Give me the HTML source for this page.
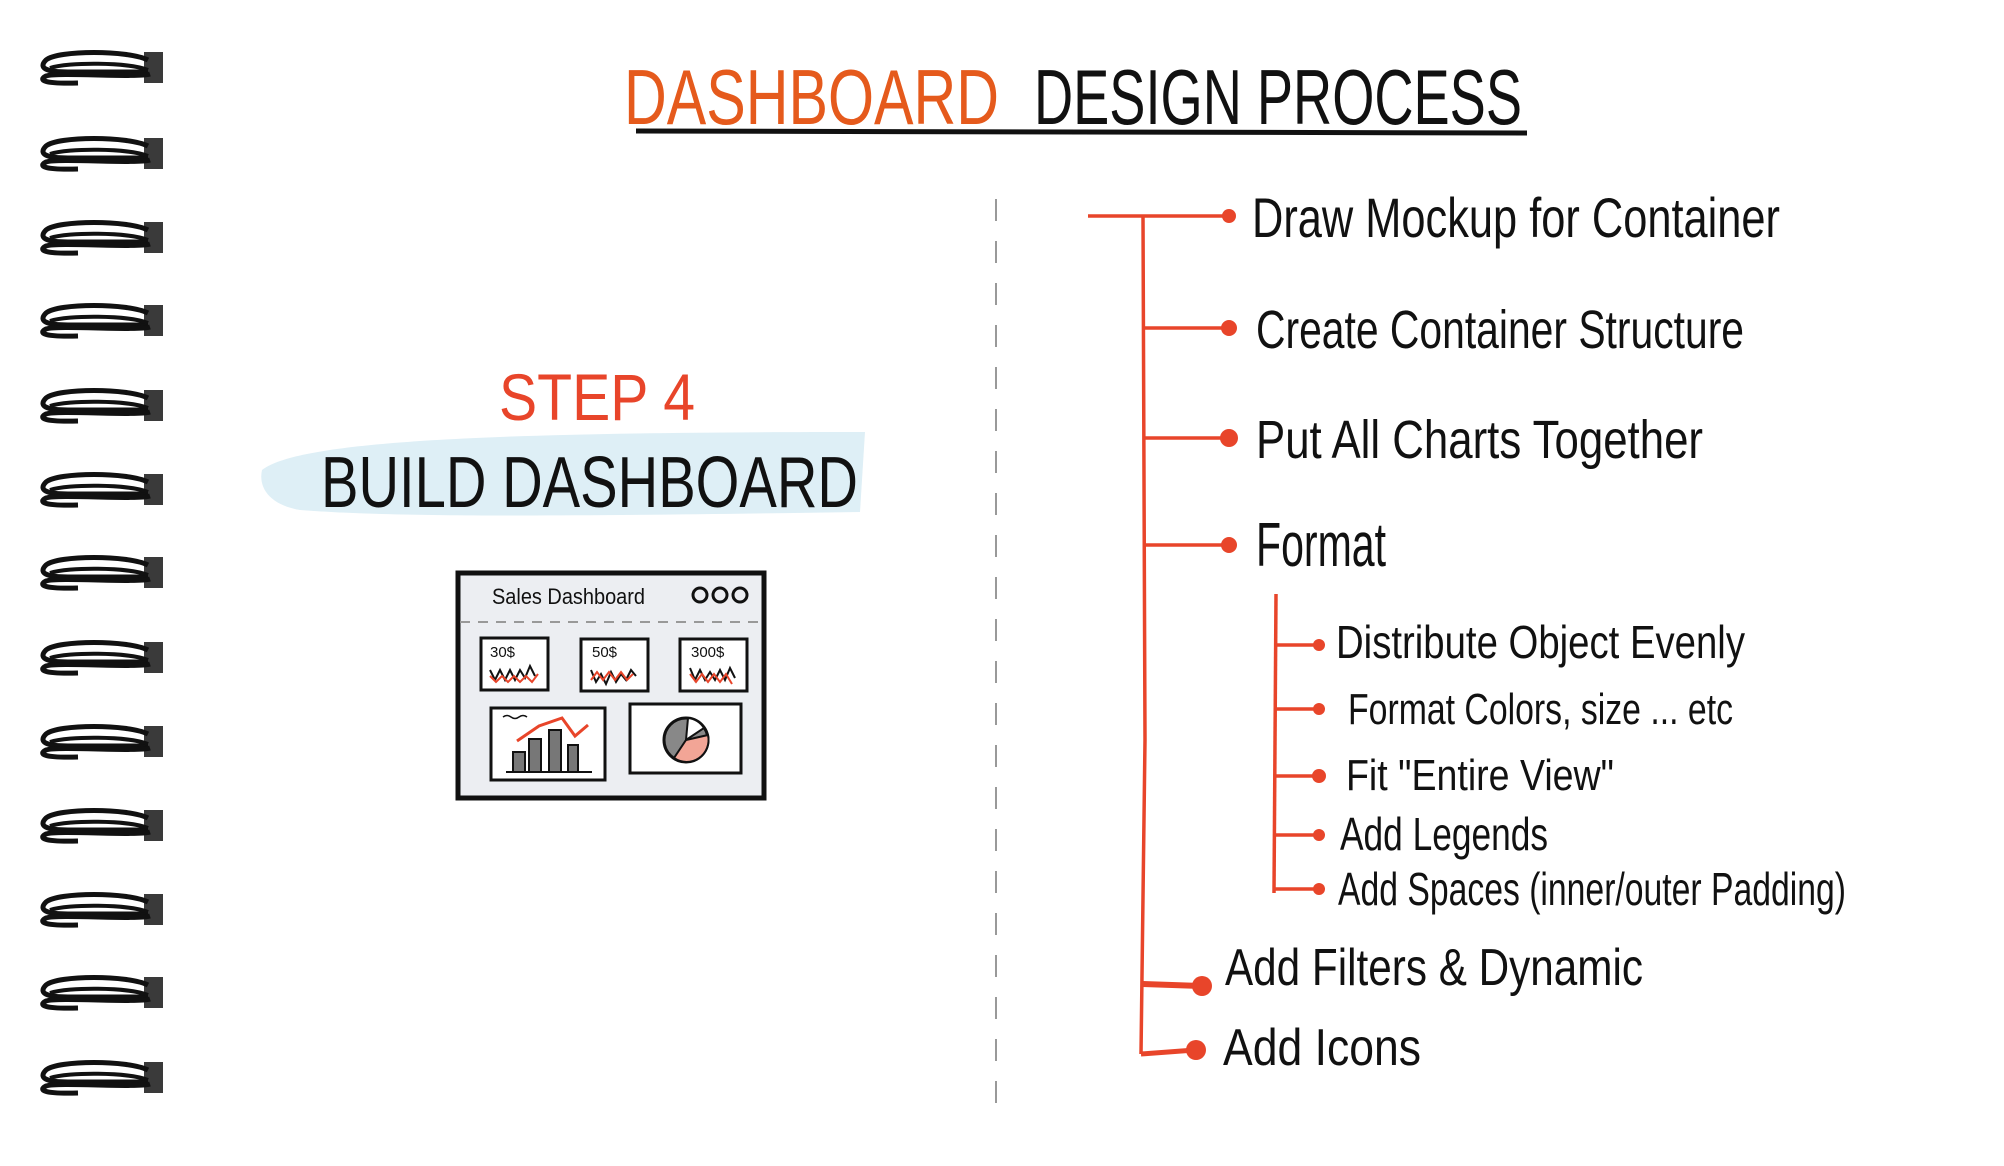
<!DOCTYPE html>
<html><head><meta charset="utf-8">
<style>
html,body{margin:0;padding:0;background:#fff;}
svg{display:block;}
text{font-family:"Liberation Sans Narrow","Liberation Sans",sans-serif;}
</style></head>
<body>
<svg width="2004" height="1166" viewBox="0 0 2004 1166" xmlns="http://www.w3.org/2000/svg">
<defs>
<g id="coil">
  <rect x="146" y="2" width="19" height="31" fill="#3a3a3a"/>
  <path d="M150 10 C130 0 60 0 48 10 C40 18 48 22 70 22 L150 22" fill="none" stroke="#111" stroke-width="5"/>
  <path d="M150 20 C130 12 70 12 52 18" fill="none" stroke="#111" stroke-width="4"/>
  <path d="M152 24 C140 28 60 22 48 26 C40 30 45 34 80 33" fill="none" stroke="#111" stroke-width="5"/>
</g>
</defs>
<g transform="translate(-2,0)">
<use href="#coil" y="50"/><use href="#coil" y="136"/><use href="#coil" y="220"/><use href="#coil" y="303"/>
<use href="#coil" y="388"/><use href="#coil" y="472"/><use href="#coil" y="555"/><use href="#coil" y="640"/>
<use href="#coil" y="724"/><use href="#coil" y="808"/><use href="#coil" y="892"/><use href="#coil" y="975"/>
<use href="#coil" y="1060"/>
</g>

<!-- Title -->
<text x="624" y="124" font-size="78" fill="#e55a1c" textLength="375" lengthAdjust="spacingAndGlyphs">DASHBOARD</text>
<text x="1034" y="124" font-size="78" fill="#111" textLength="488" lengthAdjust="spacingAndGlyphs">DESIGN PROCESS</text>
<path d="M636 131 L1527 133" stroke="#111" stroke-width="5"/>

<!-- dashed divider -->
<line x1="1001" y1="199" x2="1001" y2="1103" stroke="#999" stroke-width="2" stroke-dasharray="22 20" transform="translate(-5,0)"/>

<!-- Step 4 -->
<text x="499" y="420" font-size="66" fill="#e8452a" textLength="196" lengthAdjust="spacingAndGlyphs">STEP 4</text>
<path d="M262 470 C300 440 500 432 865 432 L860 512 C600 516 400 518 300 510 C270 505 258 488 262 470Z" fill="#deeff6"/>
<text x="321" y="507" font-size="72" fill="#111" textLength="537" lengthAdjust="spacingAndGlyphs">BUILD DASHBOARD</text>

<!-- Dashboard sketch -->
<g transform="translate(-2,0)">
<rect x="460" y="573" width="306" height="225" fill="#eceef2" stroke="#111" stroke-width="5"/>
<text x="494" y="604" font-size="22" fill="#111" textLength="153" lengthAdjust="spacingAndGlyphs">Sales Dashboard</text>
<circle cx="702" cy="595" r="7" fill="none" stroke="#111" stroke-width="3"/>
<circle cx="722" cy="595" r="7" fill="none" stroke="#111" stroke-width="3"/>
<circle cx="742" cy="595" r="7" fill="none" stroke="#111" stroke-width="3"/>
<line x1="462" y1="622" x2="764" y2="622" stroke="#999" stroke-width="2" stroke-dasharray="10 8"/>
<g stroke="#111" stroke-width="3" fill="#fff">
<rect x="483" y="638" width="67" height="52"/>
<rect x="583" y="639" width="67" height="52"/>
<rect x="682" y="639" width="67" height="52"/>
<rect x="493" y="708" width="114" height="72"/>
<rect x="632" y="704" width="111" height="69"/>
</g>
<g font-size="15" fill="#111">
<text x="492" y="657">30$</text><text x="594" y="657">50$</text><text x="693" y="657">300$</text>
</g>
<g fill="none" stroke-width="2">
<path d="M492 670 l5 10 l5 -10 l5 10 l5 -10 l5 10 l5 -10 l5 8 l5 -12 l5 10" stroke="#111"/>
<path d="M492 676 l6 6 l6 -6 l6 6 l6 -6 l6 6 l6 -6 l6 6 l6 -8" stroke="#e8452a"/>
<path d="M593 670 l5 12 l5 -8 l5 10 l5 -12 l5 10 l5 -8 l5 6 l5 -10 l5 6" stroke="#111"/>
<path d="M593 680 l6 -8 l6 8 l6 -8 l6 8 l6 -8 l6 8 l6 -6" stroke="#e8452a"/>
<path d="M692 668 l5 12 l5 -10 l5 10 l5 -8 l5 8 l5 -10 l5 10 l5 -12 l5 10" stroke="#111"/>
<path d="M692 674 l6 8 l6 -8 l6 8 l6 -8 l6 8 l6 -8 l6 10" stroke="#e8452a"/>
</g>
<g fill="#777" stroke="#111" stroke-width="2">
<rect x="515" y="752" width="12" height="20"/><rect x="531" y="739" width="12" height="33"/>
<rect x="551" y="730" width="12" height="42"/><rect x="570" y="745" width="10" height="27"/>
</g>
<line x1="508" y1="772" x2="594" y2="772" stroke="#111" stroke-width="2"/>
<path d="M519 741 L541 726 L564 718 L577 736 L590 725" fill="none" stroke="#e8452a" stroke-width="3"/>
<path d="M505 717 q4 -3 8 0 q4 3 8 0 q4 -3 8 0" fill="none" stroke="#111" stroke-width="1.5"/>
<circle cx="688" cy="740" r="22" fill="#888" stroke="#111" stroke-width="3"/>
<path d="M688 740 L710 735 A22 22 0 0 1 676 758 Z" fill="#f2a596" stroke="#111" stroke-width="2"/>
<path d="M688 740 L690 718 A22 22 0 0 1 706 728 Z" fill="#fff" stroke="#111" stroke-width="2"/>
</g>

<!-- Tree -->
<g transform="translate(-7,0)">
<g stroke="#e8452a" stroke-width="3.5" fill="none">
<path d="M1095 216 L1236 216"/>
<path d="M1150 216 L1152 740 L1148 1054"/>
<path d="M1152 328 L1234 328"/>
<path d="M1150 438 L1234 438"/>
<path d="M1151 545 L1234 545"/>
<path d="M1150 984 L1208 986" stroke-width="6"/>
<path d="M1148 1054 L1202 1050" stroke-width="5"/>
<path d="M1283 594 L1281 893"/>
<path d="M1282 645 L1324 645"/>
<path d="M1282 709 L1324 709"/>
<path d="M1282 776 L1324 776"/>
<path d="M1282 835 L1324 835"/>
<path d="M1281 889 L1324 889"/>
</g>
<g fill="#e8452a">
<circle cx="1236" cy="216" r="7"/><circle cx="1236" cy="328" r="8"/><circle cx="1236" cy="438" r="9"/>
<circle cx="1236" cy="545" r="8"/><circle cx="1209" cy="986" r="10"/><circle cx="1203" cy="1050" r="10"/>
<circle cx="1326" cy="645" r="6"/><circle cx="1326" cy="709" r="6"/><circle cx="1326" cy="776" r="7"/>
<circle cx="1326" cy="835" r="6"/><circle cx="1326" cy="889" r="6"/>
</g>
<g fill="#111">
<text x="1259" y="237" font-size="56" textLength="528" lengthAdjust="spacingAndGlyphs">Draw Mockup for Container</text>
<text x="1263" y="348" font-size="54" textLength="488" lengthAdjust="spacingAndGlyphs">Create Container Structure</text>
<text x="1263" y="458" font-size="54" textLength="447" lengthAdjust="spacingAndGlyphs">Put All Charts Together</text>
<text x="1263" y="566" font-size="62" textLength="130" lengthAdjust="spacingAndGlyphs">Format</text>
<text x="1343" y="658" font-size="46" textLength="409" lengthAdjust="spacingAndGlyphs">Distribute Object Evenly</text>
<text x="1355" y="724" font-size="44" textLength="385" lengthAdjust="spacingAndGlyphs">Format Colors, size ... etc</text>
<text x="1353" y="790" font-size="44" textLength="268" lengthAdjust="spacingAndGlyphs">Fit "Entire View"</text>
<text x="1347" y="850" font-size="46" textLength="208" lengthAdjust="spacingAndGlyphs">Add Legends</text>
<text x="1345" y="905" font-size="46" textLength="508" lengthAdjust="spacingAndGlyphs">Add Spaces (inner/outer Padding)</text>
<text x="1232" y="985" font-size="52" textLength="418" lengthAdjust="spacingAndGlyphs">Add Filters &amp; Dynamic</text>
<text x="1230" y="1065" font-size="52" textLength="198" lengthAdjust="spacingAndGlyphs">Add Icons</text>
</g>
</g>
</svg>
</body></html>
